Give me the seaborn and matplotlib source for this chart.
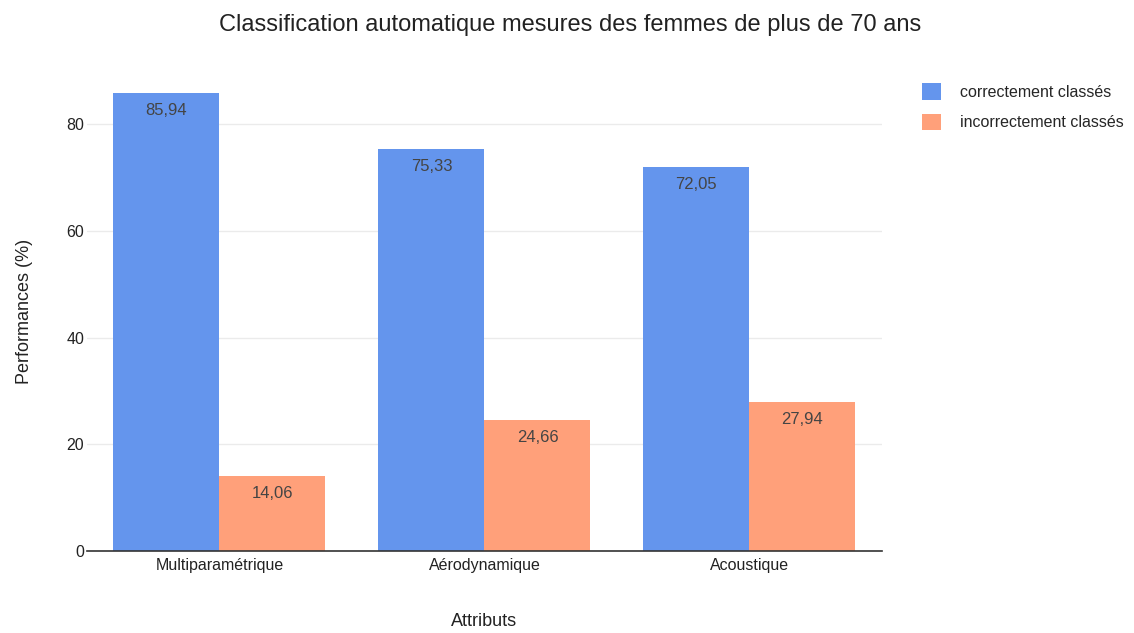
import matplotlib
matplotlib.use("Agg")
import matplotlib.pyplot as plt
from matplotlib.patches import Patch
import seaborn as sns
import pandas as pd

categories = ["Multiparamétrique", "Aérodynamique", "Acoustique"]
correct = [85.94, 75.33, 72.05]
incorrect = [14.06, 24.66, 27.94]
series_names = ["correctement classés", "incorrectement classés"]
colors = ["#6495ED", "#FFA07A"]

df = pd.DataFrame({
    "Attributs": categories * 2,
    "valeur": correct + incorrect,
    "serie": [series_names[0]] * 3 + [series_names[1]] * 3,
})

sns.set_theme(style="white")
plt.rcParams["font.family"] = ["Liberation Sans", "DejaVu Sans"]

fig = plt.figure(figsize=(11.34, 6.33), dpi=100)
ax = fig.add_axes([0.0767, 0.1295, 0.7010, 0.7583])

sns.barplot(data=df, x="Attributs", y="valeur", hue="serie",
            palette=colors, hue_order=series_names, order=categories,
            width=0.8, saturation=1, ax=ax, legend=False, errorbar=None,
            linewidth=0, edgecolor="none")

ax.set_xlim(-0.5, 2.5)
ax.set_ylim(0, 90)
ax.set_yticks([0, 20, 40, 60, 80])
ax.set_yticklabels(["0", "20", "40", "60", "80"])
ax.yaxis.grid(True, color="#ebebeb", linewidth=1)
ax.set_axisbelow(True)
for s in ["top", "right", "left"]:
    ax.spines[s].set_visible(False)
ax.spines["bottom"].set_color("#333333")
ax.spines["bottom"].set_linewidth(1.2)
ax.tick_params(axis="both", length=0, labelsize=11.5, colors="#222222")
ax.tick_params(axis="x", pad=5)
ax.tick_params(axis="y", pad=2)

for container in ax.containers:
    labels = [f"{b.get_height():.2f}".replace(".", ",") for b in container]
    ax.bar_label(container, labels=labels, label_type="edge", padding=-18,
                 fontsize=12, color="#444444")

ax.set_xlabel("Attributs", fontsize=13, color="#222222", labelpad=29)
ax.set_ylabel("Performances (%)", fontsize=13, color="#222222", labelpad=24)
fig.suptitle("Classification automatique mesures des femmes de plus de 70 ans",
             x=0.503, y=0.978, fontsize=17, color="#222222")

handles = [Patch(facecolor=c, edgecolor="none") for c in colors]
fig.legend(handles, series_names, loc="upper left", bbox_to_anchor=(0.800, 0.891),
           frameon=False, fontsize=11.5, handlelength=1.2, handleheight=1.2,
           handletextpad=1.2, labelspacing=0.85)

fig.savefig("out.png", dpi=100)
